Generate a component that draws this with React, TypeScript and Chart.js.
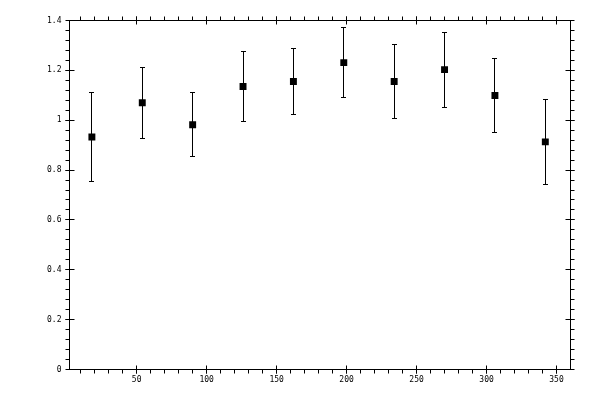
import React, { useEffect, useRef } from 'react';
import { Chart, registerables, ChartConfiguration, Plugin } from 'chart.js';

Chart.register(...registerables);

const angles = [18, 54, 90, 126, 162, 198, 234, 270, 306, 342];
const values = [0.933, 1.07, 0.982, 1.135, 1.155, 1.231, 1.155, 1.203, 1.099, 0.913];
const errors = [0.177, 0.143, 0.128, 0.142, 0.131, 0.14, 0.15, 0.15, 0.149, 0.17];

const xTicks = [50, 100, 150, 200, 250, 300, 350];
const yTicks = [0, 0.2, 0.4, 0.6, 0.8, 1, 1.2, 1.4];

const X_MIN = 2;
const X_MAX = 360;
const Y_MIN = 0;
const Y_MAX = 1.4;
const X_MINOR = 10;
const Y_MINOR = 0.04;

const TICK_FONT = { family: '"DejaVu Sans Mono", monospace', size: 8 };

// frame, tick marks on all four sides (outward minor, crossing major) and the error bars
const framePlugin: Plugin = {
    id: 'frame',
    beforeDatasetsDraw(chart) {
        const { ctx, chartArea } = chart;
        const xs = chart.scales.x;
        const ys = chart.scales.y;
        const { left, right, top, bottom } = chartArea;
        const crisp = (v: number) => Math.round(v - 0.5) + 0.5;

        ctx.save();
        ctx.strokeStyle = '#000';
        ctx.lineWidth = 1;
        ctx.beginPath();
        ctx.rect(left, top, right - left, bottom - top);

        // x minor ticks
        for (let v = X_MINOR; v < X_MAX; v += X_MINOR) {
            const px = crisp(xs.getPixelForValue(v));
            ctx.moveTo(px, bottom);
            ctx.lineTo(px, bottom + 4);
            ctx.moveTo(px, top);
            ctx.lineTo(px, top - 4);
        }
        // x major ticks
        xTicks.forEach(v => {
            const px = crisp(xs.getPixelForValue(v));
            ctx.moveTo(px, bottom - 4);
            ctx.lineTo(px, bottom + 4);
            ctx.moveTo(px, top - 4);
            ctx.lineTo(px, top + 4);
        });
        // y minor ticks
        for (let i = 1; i * Y_MINOR < Y_MAX - 1e-6; i++) {
            const py = crisp(ys.getPixelForValue(i * Y_MINOR));
            ctx.moveTo(left, py);
            ctx.lineTo(left - 4, py);
            ctx.moveTo(right, py);
            ctx.lineTo(right + 4, py);
        }
        // y major ticks
        yTicks.forEach(v => {
            const py = crisp(ys.getPixelForValue(v));
            ctx.moveTo(left - 4, py);
            ctx.lineTo(left + 5, py);
            ctx.moveTo(right + 4, py);
            ctx.lineTo(right - 5, py);
        });

        // error bars
        angles.forEach((a, i) => {
            const px = crisp(xs.getPixelForValue(a));
            const hi = crisp(ys.getPixelForValue(values[i] + errors[i]));
            const lo = crisp(ys.getPixelForValue(values[i] - errors[i]));
            ctx.moveTo(px, hi);
            ctx.lineTo(px, lo);
            ctx.moveTo(px - 2.5, hi);
            ctx.lineTo(px + 2.5, hi);
            ctx.moveTo(px - 2.5, lo);
            ctx.lineTo(px + 2.5, lo);
        });
        ctx.stroke();
        ctx.restore();
    }
};

const App: React.FC = () => {
    const canvasRef = useRef<HTMLCanvasElement>(null);

    useEffect(() => {
        if (!canvasRef.current) return;

        const config: ChartConfiguration<'scatter'> = {
            type: 'scatter',
            data: {
                datasets: [{
                    data: angles.map((a, i) => ({ x: a, y: values[i] })),
                    pointStyle: 'rect',
                    pointRadius: 4.9,
                    pointBorderWidth: 0,
                    backgroundColor: '#000',
                    borderColor: '#000'
                }]
            },
            options: {
                animation: false,
                responsive: true,
                maintainAspectRatio: false,
                layout: { padding: { left: 0, right: 29.5, top: 20.5, bottom: 0 } },
                plugins: {
                    legend: { display: false },
                    tooltip: { enabled: false }
                },
                scales: {
                    x: {
                        type: 'linear',
                        min: X_MIN,
                        max: X_MAX,
                        afterFit: (scale: any) => { scale.height = 30.5; },
                        afterBuildTicks: (scale: any) => { scale.ticks = xTicks.map(v => ({ value: v })); },
                        grid: { display: false, drawTicks: false },
                        border: { display: false },
                        ticks: { color: '#000', font: TICK_FONT, padding: 6, maxRotation: 0, autoSkip: false }
                    },
                    y: {
                        type: 'linear',
                        min: Y_MIN,
                        max: Y_MAX,
                        afterFit: (scale: any) => { scale.width = 69.5; },
                        afterBuildTicks: (scale: any) => { scale.ticks = yTicks.map(v => ({ value: v })); },
                        grid: { display: false, drawTicks: false },
                        border: { display: false },
                        ticks: {
                            color: '#000',
                            font: TICK_FONT,
                            padding: 8,
                            autoSkip: false,
                            callback: (v: any) => String(+Number(v).toFixed(1))
                        }
                    }
                }
            },
            plugins: [framePlugin]
        };

        const chart = new Chart(canvasRef.current, config);
        return () => chart.destroy();
    }, []);

    return (
        <div style={{ position: 'absolute', left: 0, top: 0, width: 600, height: 400, background: '#fff' }}>
            <canvas ref={canvasRef}></canvas>
        </div>
    );
};

export default App;
